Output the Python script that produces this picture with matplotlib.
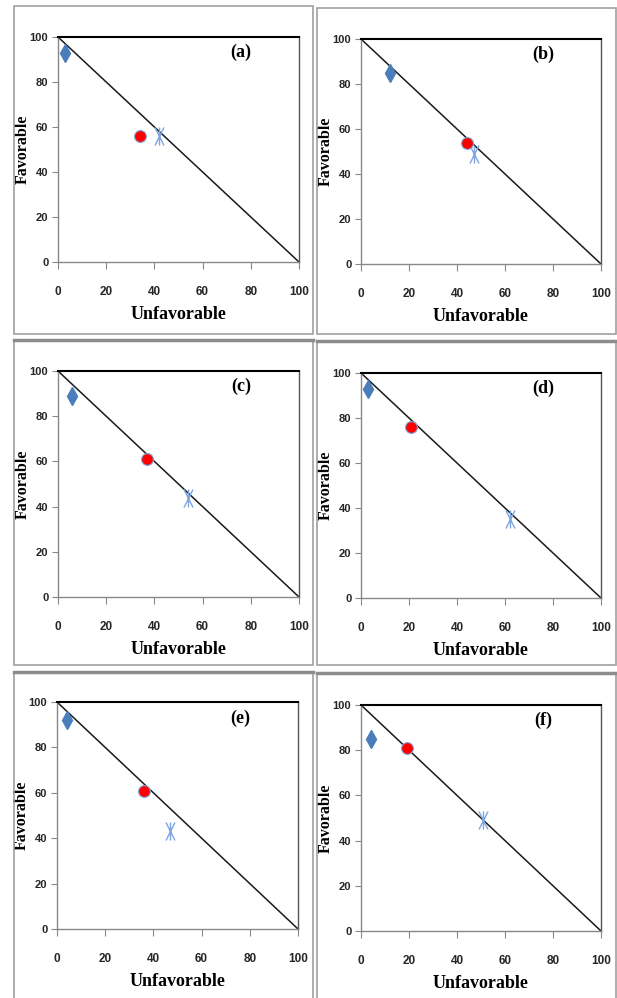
"""Favorable vs unfavorable scatter, six panels (a)-(f)."""
import matplotlib
matplotlib.use("Agg")
import matplotlib.pyplot as plt
from matplotlib.path import Path
from matplotlib.patches import Rectangle
from matplotlib.lines import Line2D

plt.rcParams.update({
    "font.family": ["Liberation Sans", "DejaVu Sans"],
    "font.size": 9,
    "figure.dpi": 100,
})

# values
panel_labels = ["(a)", "(b)", "(c)", "(d)", "(e)", "(f)"]
diamond_x = [3, 12, 6, 3, 4, 4]
diamond_y = [93, 85, 89, 93, 92, 85]
circle_x = [34, 44, 37, 21, 36, 19]
circle_y = [56, 54, 61, 76, 61, 81]
star_x = [42, 47, 54, 62, 47, 51]
star_y = [56, 49, 44, 35, 43, 49]
line_x = [0, 100]
line_y = [100, 0]
ticks = [0, 20, 40, 60, 80, 100]

W, H = 617, 998
# axes boxes in pixels: left, top, right, bottom
AX_BOXES = [
    (58, 37, 299, 262), (361, 39, 601, 264),
    (58, 371, 299, 597), (361, 373, 601, 598),
    (57, 702, 298, 929), (361, 705, 601, 931),
]
FRAMES = [
    (14, 6, 313, 334), (317, 8, 616, 334),
    (14, 340, 313, 665), (317, 341, 616, 665),
    (14, 672, 313, 1003), (317, 673, 616, 1003),
]

# Excel-style star: vertical bar plus a steep X
STAR = Path([(0, -1), (0, 1), (-0.5, -1), (0.5, 1), (-0.5, 1), (0.5, -1)],
            [Path.MOVETO, Path.LINETO, Path.MOVETO, Path.LINETO,
             Path.MOVETO, Path.LINETO])

fig = plt.figure(figsize=(W / 100, H / 100))

for i, (l, t, r, b) in enumerate(FRAMES):
    fig.patches.append(Rectangle((l / W, 1 - b / H), (r - l) / W, (b - t) / H,
                                 transform=fig.transFigure, fill=False,
                                 edgecolor="#a0a0a0", linewidth=1.2))
    if i >= 2:
        fig.lines.append(Line2D([l / W, r / W], [1 - t / H, 1 - t / H],
                                transform=fig.transFigure, color="#8c8c8c",
                                linewidth=2.5))

for i, (l, t, r, b) in enumerate(AX_BOXES):
    ax = fig.add_axes([l / W, 1 - b / H, (r - l) / W, (b - t) / H])
    ax.plot(line_x, line_y, color="#1a1a1a", linewidth=1.1, zorder=2)
    ax.plot(diamond_x[i], diamond_y[i], marker="d", markersize=9,
            color="#4a7ebb", linestyle="none", zorder=3)
    ax.plot(circle_x[i], circle_y[i], marker="o", markersize=8.5,
            markerfacecolor="#ff0000", markeredgecolor="#7fa3d6",
            markeredgewidth=0.8, linestyle="none", zorder=4)
    ax.plot(star_x[i], star_y[i], marker=STAR, markersize=13,
            markeredgecolor="#7ea6e0", markeredgewidth=1.0,
            linestyle="none", zorder=3)

    ax.set_xlim(0, 100)
    ax.set_ylim(0, 100)
    ax.set_xticks(ticks)
    ax.set_yticks(ticks)
    ax.tick_params(axis="x", direction="out", length=5, pad=12, color="#888888",
                   labelsize=8.5)
    ax.tick_params(axis="y", direction="out", length=4, pad=3, color="#888888",
                   labelsize=8)
    for lab in ax.get_xticklabels() + ax.get_yticklabels():
        lab.set_fontweight("bold")
        lab.set_color("#262626")
    for side in ("left", "bottom"):
        ax.spines[side].set_color("#888888")
        ax.spines[side].set_linewidth(1.0)
    ax.spines["right"].set_color("#555555")
    ax.spines["right"].set_linewidth(1.0)
    ax.spines["top"].set_color("#000000")
    ax.spines["top"].set_linewidth(1.5)

    ax.set_xlabel("Unfavorable", family="Liberation Serif", fontweight="bold",
                  fontsize=13, labelpad=6)
    ax.set_ylabel("Favorable", family="Liberation Serif", fontweight="bold",
                  fontsize=11.5, va="center")
    ax.yaxis.set_label_coords(-0.145, 0.5)
    ax.text(76, 93, panel_labels[i], family="Liberation Serif",
            fontweight="bold", fontsize=13, ha="center", va="center")

fig.savefig("out.png", dpi=100)
